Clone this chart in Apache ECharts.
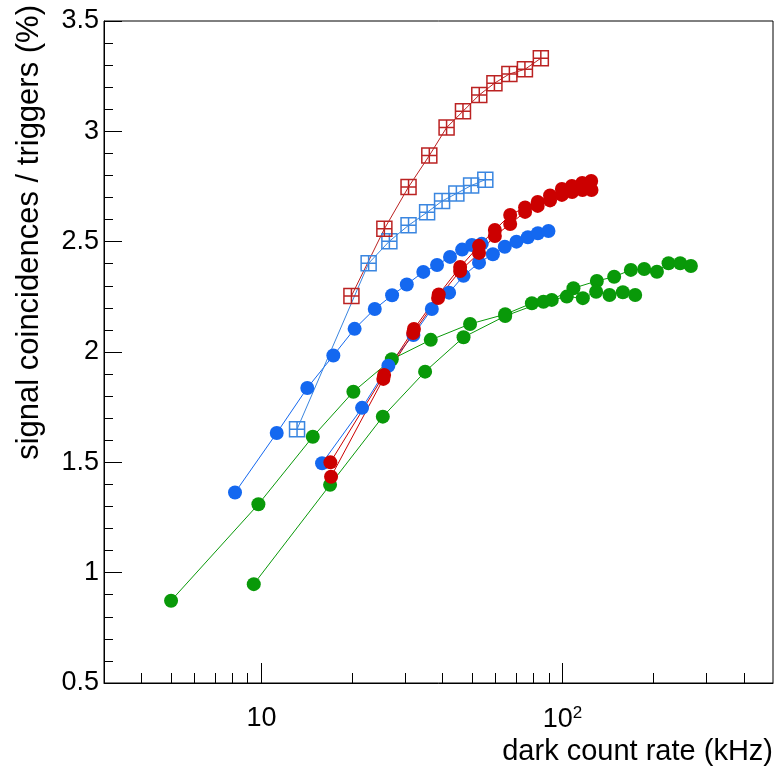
<!DOCTYPE html>
<html>
<head>
<meta charset="utf-8">
<script src="https://cdn.jsdelivr.net/npm/echarts@6/dist/echarts.min.js"></script>
<style>
html,body{margin:0;padding:0;background:#fff;}
#c{width:778px;height:773px;}
</style>
</head>
<body>
<div id="c"></div>
<script>
// ---- data (x: dark count rate kHz, y: signal coincidences / triggers %) ----
const redSqX = [19.9, 25.6, 30.8, 36.1, 41.2, 46.7, 52.9, 59.4, 66.6, 75.0, 84.7];
const redSqY = [2.254, 2.558, 2.748, 2.890, 3.017, 3.091, 3.165, 3.218, 3.260, 3.281, 3.331];

const blueSqX = [13.13, 22.7, 26.6, 30.8, 35.5, 39.8, 44.4, 49.7, 55.4];
const blueSqY = [1.650, 2.402, 2.502, 2.574, 2.633, 2.684, 2.718, 2.754, 2.781];

const blueAX = [8.17, 11.24, 14.20, 17.33, 20.39, 23.79, 27.16, 30.39, 34.48, 38.3, 42.3, 46.4, 50.0, 53.9];
const blueAY = [1.363, 1.633, 1.837, 1.984, 2.105, 2.195, 2.257, 2.306, 2.363, 2.394, 2.431, 2.464, 2.485, 2.490];

const blueBX = [15.90, 21.59, 26.4, 31.97, 36.8, 42.0, 46.9, 52.8, 58.7, 64.3, 70.3, 76.7, 82.8, 89.8];
const blueBY = [1.496, 1.747, 1.938, 2.077, 2.195, 2.269, 2.345, 2.405, 2.443, 2.477, 2.500, 2.520, 2.538, 2.548];

const redAX = [16.94, 25.55, 32.1, 38.8, 45.7, 52.8, 59.6, 67.0, 75.1, 82.7, 90.9, 99.5, 107.4, 116.2, 124.5];
const redAY = [1.500, 1.896, 2.104, 2.261, 2.385, 2.481, 2.553, 2.621, 2.655, 2.680, 2.709, 2.739, 2.752, 2.766, 2.775];

const redBX = [17.03, 25.4, 31.9, 38.6, 45.7, 52.8, 59.6, 67.0, 75.1, 82.7, 90.9, 99.5, 107.6, 116.5, 124.8];
const redBY = [1.435, 1.878, 2.086, 2.245, 2.367, 2.449, 2.526, 2.580, 2.635, 2.662, 2.687, 2.712, 2.725, 2.734, 2.734];

const greenAX = [5.01, 9.77, 14.81, 20.2, 27.1, 36.5, 49.3, 64.5, 79.1, 92.1, 108.7, 130.0, 148.4, 168.6, 186.7, 205.8, 224.9, 245.9, 266.9];
const greenAY = [0.873, 1.310, 1.616, 1.820, 1.967, 2.055, 2.127, 2.171, 2.221, 2.236, 2.289, 2.322, 2.341, 2.372, 2.376, 2.364, 2.402, 2.402, 2.390];

const greenBX = [9.43, 16.90, 25.3, 34.96, 46.9, 64.5, 86.4, 103.3, 116.8, 129.3, 143.2, 158.6, 174.3];
const greenBY = [0.948, 1.398, 1.707, 1.911, 2.067, 2.163, 2.228, 2.251, 2.244, 2.273, 2.258, 2.271, 2.258];

const xMajorTicks = [10, 100];
const xMinorTicks = [4, 5, 6, 7, 8, 9, 20, 30, 40, 50, 60, 70, 80, 90, 200, 300, 400];
const yTicks = [0.5, 1, 1.5, 2, 2.5, 3, 3.5];

const xTitle = 'dark count rate (kHz)';
const yTitle = 'signal coincidences / triggers (%)';

// ---- chart ----
const FONT = '"Liberation Sans", Arial, Helvetica, sans-serif';
const zip = (xs, ys) => xs.map((x, i) => [x, ys[i]]);
const SQ = 'path://M0,0L16,0L16,16L0,16ZM8,0L8,16M0,8L16,8';

function circleSeries(name, xs, ys, color) {
  return {
    name, type: 'line', xAxisIndex: 0, yAxisIndex: 0,
    data: zip(xs, ys), symbol: 'circle', symbolSize: 14,
    itemStyle: { color: color },
    lineStyle: { color: color, width: 1 },
    emphasis: { disabled: true }, silent: true
  };
}
function squareSeries(name, xs, ys, color) {
  return {
    name, type: 'line', xAxisIndex: 0, yAxisIndex: 0,
    data: zip(xs, ys), symbol: SQ, symbolSize: 15,
    itemStyle: { color: 'rgba(0,0,0,0)', borderColor: color, borderWidth: 1.5 },
    lineStyle: { color: color, width: 1 },
    emphasis: { disabled: true }, silent: true
  };
}

const chart = echarts.init(document.getElementById('c'), null, { renderer: 'canvas' });
chart.setOption({
  animation: false,
  backgroundColor: '#fff',
  grid: { left: 104, right: 5, top: 21, bottom: 90, show: true, borderColor: '#000', borderWidth: 1, backgroundColor: 'transparent' },
  xAxis: [
    {
      type: 'log', logBase: 10, min: 3, max: 500,
      axisLine: { show: true, lineStyle: { color: '#000', width: 1 } },
      axisTick: { show: true, inside: true, length: 20, customValues: xMajorTicks, lineStyle: { color: '#000' } },
      axisLabel: {
        show: true, customValues: xMajorTicks, margin: 22, color: '#000',
        fontFamily: FONT, fontSize: 27,
        formatter: v => {
          const e = Math.round(Math.log10(v));
          return e === 1 ? '10' : '10{s|' + e + '}';
        },
        rich: { s: { fontSize: 17, fontFamily: FONT, color: '#000', verticalAlign: 'top', padding: [0, 0, 12, 0] } }
      },
      splitLine: { show: false }, minorTick: { show: false }
    },
    {
      type: 'log', logBase: 10, min: 3, max: 500, position: 'bottom',
      axisLine: { show: false },
      axisTick: { show: true, inside: true, length: 10, customValues: xMinorTicks, lineStyle: { color: '#000' } },
      axisLabel: { show: false },
      splitLine: { show: false }
    }
  ],
  yAxis: {
    type: 'value', min: 0.5, max: 3.5, interval: 0.5,
    axisLine: { show: true, lineStyle: { color: '#000', width: 1 } },
    axisTick: { show: true, inside: true, length: 18, lineStyle: { color: '#000' } },
    minorTick: { show: true, splitNumber: 5, length: 9, lineStyle: { color: '#000' } },
    axisLabel: { margin: 5, color: '#000', fontFamily: FONT, fontSize: 27, customValues: yTicks },
    splitLine: { show: false }
  },
  graphic: [
    { type: 'text', x: 29, y: 5, rotation: Math.PI / 2,
      style: { text: yTitle, fill: '#000', font: '31px ' + FONT, align: 'right', verticalAlign: 'middle' } },
    { type: 'text', x: 773, y: 752,
      style: { text: xTitle, fill: '#000', font: '29px ' + FONT, align: 'right', verticalAlign: 'middle' } }
  ],
  series: [
    circleSeries('green A', greenAX, greenAY, '#099909'),
    circleSeries('green B', greenBX, greenBY, '#099909'),
    circleSeries('blue A', blueAX, blueAY, '#1468f0'),
    circleSeries('blue B', blueBX, blueBY, '#1468f0'),
    circleSeries('red A', redAX, redAY, '#cc0000'),
    circleSeries('red B', redBX, redBY, '#cc0000'),
    squareSeries('blue sq', blueSqX, blueSqY, '#3a86e0'),
    squareSeries('red sq', redSqX, redSqY, '#bb2222')
  ]
});
</script>
</body>
</html>
